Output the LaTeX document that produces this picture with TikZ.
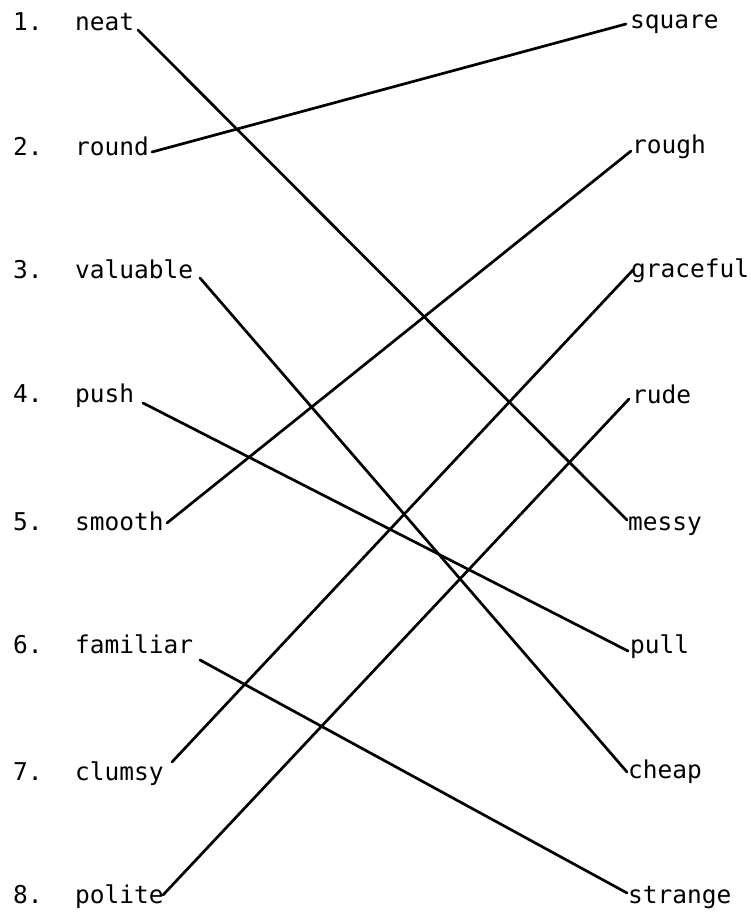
\documentclass[tikz,border=0pt]{standalone}
\usepackage{fontspec}
\newfontfamily\monofont{DejaVu Sans Mono}
\begin{document}
\begin{tikzpicture}[x=1pt,y=-1pt,
  word/.style={anchor=base west,inner sep=0pt,font=\monofont\fontsize{24.5}{28}\selectfont},
  link/.style={line width=2.7pt,line cap=round}]
\useasboundingbox (0,0) rectangle (751,921);
% numbers
\foreach \n/\y in {1/30,2/155,3/278,4/402,5/530,6/653,7/780,8/903}
  \node[word] (num\n) at (13,\y) {\n.};
% left words
\node[word] (neat) at (75,30) {neat};
\node[word] (round) at (75,155) {round};
\node[word] (valuable) at (75,278) {valuable};
\node[word] (push) at (75,402) {push};
\node[word] (smooth) at (75,530) {smooth};
\node[word] (familiar) at (75,653) {familiar};
\node[word] (clumsy) at (75,780) {clumsy};
\node[word] (polite) at (75,903) {polite};
% right words
\node[word] (square) at (630,28) {square};
\node[word] (rough) at (632,153) {rough};
\node[word] (graceful) at (631,277) {graceful};
\node[word] (rude) at (632,403) {rude};
\node[word] (messy) at (628,530) {messy};
\node[word] (pull) at (630,653) {pull};
\node[word] (cheap) at (628,778) {cheap};
\node[word] (strange) at (628,903) {strange};
% endpoints
\coordinate (neatE) at (138,30);
\coordinate (roundE) at (152,152);
\coordinate (valuableE) at (200,278);
\coordinate (pushE) at (143,403);
\coordinate (smoothE) at (167,523);
\coordinate (familiarE) at (200,660);
\coordinate (clumsyE) at (172,762);
\coordinate (politeE) at (163,895);
\coordinate (squareW) at (626,24);
\coordinate (roughW) at (631,151);
\coordinate (gracefulW) at (633,270);
\coordinate (rudeW) at (629,399);
\coordinate (messyW) at (627,520);
\coordinate (pullW) at (628,651);
\coordinate (cheapW) at (627,772);
\coordinate (strangeW) at (627,893);
% connectors
\draw[link] (neatE) -- (messyW);
\draw[link] (roundE) -- (squareW);
\draw[link] (valuableE) -- (cheapW);
\draw[link] (pushE) -- (pullW);
\draw[link] (smoothE) -- (roughW);
\draw[link] (familiarE) -- (strangeW);
\draw[link] (clumsyE) -- (gracefulW);
\draw[link] (politeE) -- (rudeW);
\end{tikzpicture}
\end{document}
